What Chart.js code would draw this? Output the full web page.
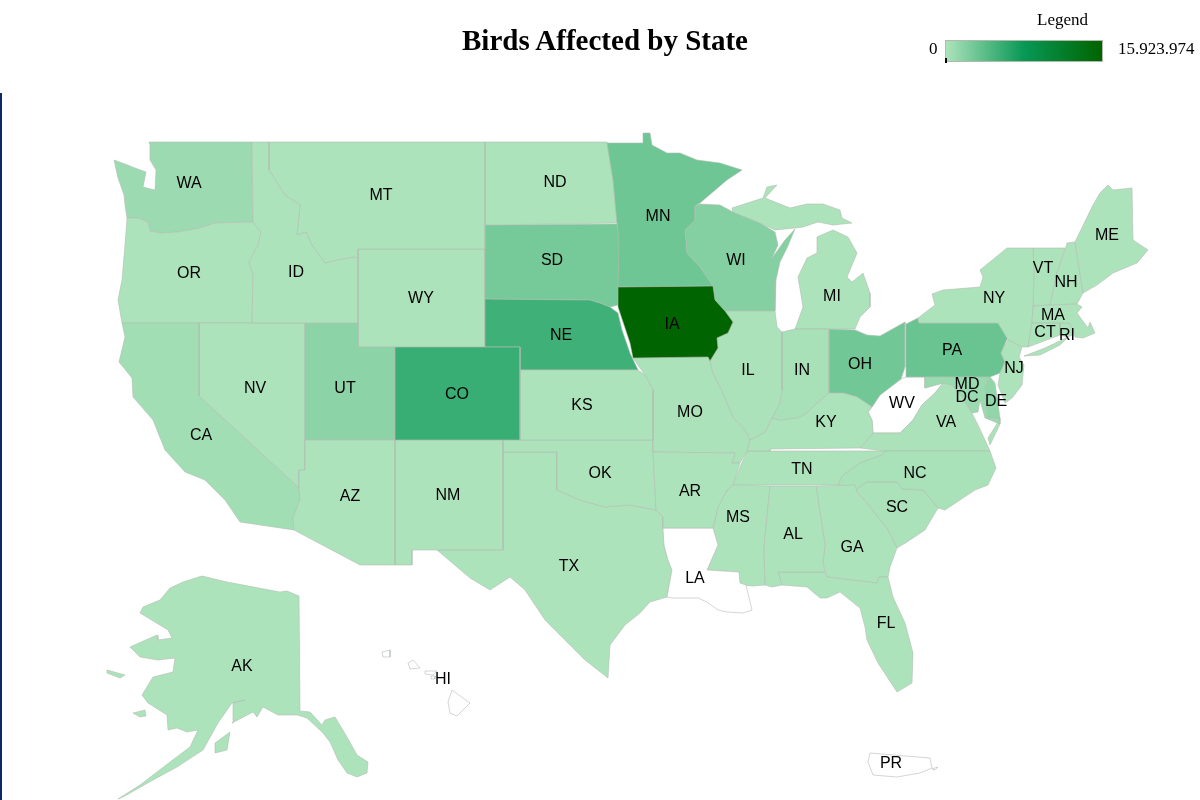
<!DOCTYPE html>
<html lang="en">
<head>
<meta charset="UTF-8">
<title>Birds Affected by State</title>
<script src="https://cdn.jsdelivr.net/npm/chart.js"></script>
<style>
  html, body { margin: 0; background: #fff; }
  #page { position: relative; width: 1200px; height: 800px; overflow: hidden; font-family: "Liberation Serif", serif; color: #000; }
  #map { position: absolute; left: 0; top: 0; }
  #edge { position: absolute; left: 0; top: 93px; width: 2px; height: 707px; background: #0b2a63; }
  #title { position: absolute; left: 405px; width: 400px; top: 23px; text-align: center; font-size: 29px; font-weight: bold; line-height: 34px; }
  .lg { position: absolute; font-size: 17px; line-height: 18px; }
  #bar { position: absolute; left: 945px; top: 40px; width: 156px; height: 20px; border: 1px solid #b4b8a8; }
  #tick { position: absolute; left: 945px; top: 58px; width: 1.5px; height: 5px; background: #000; }
</style>
</head>
<body>
<div id="page">
  <canvas id="map" width="1200" height="800"></canvas>
  <div id="edge"></div>
  <div id="title">Birds Affected by State</div>
  <div class="lg" style="left:1037px;top:11px">Legend</div>
  <div class="lg" id="minLabel" style="left:929px;top:40px"></div>
  <div id="bar"></div>
  <div id="tick"></div>
  <div class="lg" id="maxLabel" style="left:1118px;top:40px"></div>
</div>
<script>
// values read off the colour of each state, null = no data (white)
const stateCodes = ["AK","AL","AR","AZ","CA","CO","CT","DC","DE","FL","GA","HI","IA","ID","IL","IN","KS","KY","LA","MA","MD","ME","MI","MN","MO","MS","MT","NC","ND","NE","NH","NJ","NM","NV","NY","OH","OK","OR","PA","PR","RI","SC","SD","TN","TX","UT","VA","VT","WA","WI","WV","WY"];
const birdsAffected = [20000,40000,30000,10000,550000,5600000,10000,10000,1400000,10000,10000,null,15923974,20000,60000,250000,30000,30000,null,10000,950000,10000,30000,3100000,60000,30000,20000,200000,40000,5300000,10000,50000,10000,10000,40000,2900000,20000,20000,3260000,null,10000,100000,2670000,30000,20000,1600000,60000,10000,800000,2000000,null,10000];

const legendMin = 0;
const legendMax = 15923974;
const legendMinText = "0";
const legendMaxText = "15.923.974";
const rampStops = [0, 0.5, 1];
const rampColors = [[173,227,187],[8,152,86],[0,100,0]];

// label anchors, map units
const labelX = [242,793,690,350,201,457,1045,967,996,886,852,443,672,296,748,802,582,826,695,1053,967,1107,832,658,690,738,381,915,555,561,1066,1014,448,255,994,860,600,189,952,891,1067,897,552,802,569,345,946,1043,189,736,902,421];
const labelY = [665,533,490,495,434,393,331,396,400,622,546,678,323,271,369,369,404,421,577,314,383,234,295,215,411,516,194,472,181,334,281,367,494,387,297,363,472,272,349,762,334,506,259,468,565,387,421,267,182,259,402,297];

// state outlines, map units, one flat x,y list per ring
const outlineAK = [[202,576,227,582,280,592,287,591,299,596,300,711,310,712,322,725,325,720,335,717,347,737,357,755,368,762,367,773,357,777,347,773,338,760,330,742,323,733,307,718,297,715,278,715,263,707,257,717,253,712,232,723,233,703,245,700,232,703,218,723,203,750,177,767,153,780,123,797,118,799,140,785,170,762,190,747,198,730,187,732,177,728,168,730,167,715,148,703,142,695,153,677,173,672,175,658,158,660,140,657,130,647,157,635,158,640,172,638,168,630,140,613,143,607,160,600,170,588,183,582],[107,670,125,675,120,678,107,673],[133,713,145,710,146,716,140,717],[215,743,230,732,227,750,215,753]];
const outlineAL = [[770,486,816,486,825,545,823,563,825,572,778,572,782,585,772,587,765,585,764,547]];
const outlineAR = [[653,452,735,453,732,463,740,463,733,485,727,490,718,507,713,528,663,528,663,517,656,510,655,490]];
const outlineAZ = [[305,440,395,440,395,565,360,565,294,530,293,518,300,500,299,488,299,470,305,470]];
const outlineCA = [[122,323,199,323,199,396,299,488,300,500,293,518,294,530,240,522,225,500,205,480,185,472,165,450,153,420,133,397,132,378,119,362,125,337]];
const outlineCO = [[395,347,520,347,520,440,395,440]];
const outlineCT = [[1032,323,1060,323,1060,335,1028,347]];
const outlineDC = [[955,388,959,386,961,390,957,392]];
const outlineDE = [[990,377,995,383,1000,418,988,418,985,387]];
const outlineFL = [[778,572,825,572,827,577,877,583,879,577,888,577,893,597,905,623,913,653,912,683,897,692,878,663,867,640,865,627,860,608,840,592,827,598,820,598,807,587,782,585]];
const outlineGA = [[816,486,855,485,857,492,867,503,888,530,897,548,890,567,888,577,879,577,877,583,827,577,823,563,825,545]];
const outlineHI = [[448,702,452,690,470,703,457,716,450,713],[425,671,437,671,433,675,425,674],[431,676,435,676,435,679,431,679],[408,663,413,660,420,668,410,669],[382,652,390,650,390,657,383,657]];
const outlineIA = [[618,287,713,286,715,300,725,311,733,322,728,333,717,338,718,348,710,361,708,357,633,358,630,343,618,307]];
const outlineID = [[252,142,269,142,269,170,285,195,300,205,297,235,306,232,312,245,325,263,338,260,355,257,358,260,358,323,252,323,253,275,249,262,258,245,261,232,253,222]];
const outlineIL = [[725,311,775,311,777,327,782,332,782,390,780,403,772,418,765,432,750,440,745,430,733,417,723,393,713,373,710,361,718,348,717,338,728,333,733,322]];
const outlineIN = [[782,332,795,329,829,329,829,393,817,403,807,413,797,418,780,420,772,418,780,403,782,390]];
const outlineKS = [[520,370,638,370,645,375,653,390,653,440,520,440]];
const outlineKY = [[772,418,780,420,797,418,807,413,817,403,829,393,843,393,857,397,872,407,868,412,872,420,873,433,860,448,770,449,770,451,747,451,750,440,765,432]];
const outlineLA = [[663,528,713,528,715,535,718,545,707,570,739,572,740,583,746,585,752,610,743,613,727,612,718,610,707,602,698,598,673,598,667,597,672,570,668,560,664,545]];
const outlineMA = [[1033,306,1050,305,1077,304,1082,307,1077,313,1088,328,1090,322,1095,333,1083,338,1075,337,1070,323,1032,323]];
const outlineMD = [[925,377,990,377,985,387,988,417,1000,418,1000,424,985,418,980,400,978,412,972,413,962,397,952,385,943,383,925,388]];
const outlineME = [[1075,242,1093,205,1100,193,1108,185,1113,190,1132,188,1133,240,1148,250,1137,263,1113,273,1097,285,1083,293]];
const outlineMI = [[732,208,763,198,767,187,777,185,765,198,790,208,807,204,823,204,840,210,842,218,852,223,833,225,818,222,803,227,795,228,775,230,760,223,733,212],[833,230,848,237,857,253,847,277,852,282,863,273,870,293,870,307,860,317,855,329,795,329,803,307,798,277,807,258,817,253,817,237]];
const outlineMN = [[607,143,643,143,643,133,650,133,652,145,667,153,680,153,697,160,720,163,742,170,727,180,700,203,695,206,695,220,685,230,687,253,700,267,713,286,618,287,619,240,617,223,613,180]];
const outlineMO = [[633,358,708,357,710,361,713,373,723,393,733,417,745,430,750,440,747,451,740,463,732,463,735,453,653,452,653,390,645,375]];
const outlineMS = [[733,485,770,486,764,547,765,585,753,586,740,585,739,572,707,570,718,545,715,535,713,528,718,507,727,490]];
const outlineMT = [[269,142,485,142,485,249,358,249,358,260,355,257,338,260,325,263,312,245,306,232,297,235,300,205,285,195,269,170]];
const outlineNC = [[885,451,990,451,996,468,988,485,975,490,960,500,945,510,938,508,923,490,902,489,897,482,867,482,855,490,838,485,843,475,860,463,882,455]];
const outlineND = [[485,142,607,142,613,180,617,223,485,225]];
const outlineNE = [[485,299,590,300,600,303,610,307,618,313,622,330,630,353,638,370,520,370,520,347,485,347]];
const outlineNH = [[1067,243,1075,242,1083,293,1077,304,1050,305,1057,273,1065,250]];
const outlineNJ = [[1008,340,1022,347,1019,357,1024,365,1022,385,1012,398,1005,403,998,385,1000,373,1005,362,1001,353]];
const outlineNM = [[395,440,503,440,503,550,412,550,412,565,395,565]];
const outlineNV = [[199,323,305,323,305,470,299,470,299,488,199,396]];
const outlineNY = [[918,318,935,305,932,294,943,290,980,287,983,277,980,270,1007,248,1033,248,1034,273,1033,306,1032,323,1028,347,1022,347,1008,340,998,323,919,323],[1024,356,1045,348,1068,337,1060,345,1040,355]];
const outlineOH = [[829,329,855,330,867,335,880,336,905,322,905,367,901,379,880,395,872,407,857,397,843,393,829,393]];
const outlineOK = [[503,440,653,440,653,452,655,490,656,510,630,505,605,507,580,500,557,490,557,452,503,452]];
const outlineOR = [[127,218,138,218,148,222,150,231,160,233,178,232,200,228,215,223,253,222,261,232,258,245,249,262,253,275,252,323,122,323,118,300,122,280,125,245]];
const outlinePA = [[906,324,918,318,919,323,998,323,1008,337,1001,353,1005,362,1000,373,990,377,906,377]];
const outlinePR = [[870,753,930,758,932,768,920,773,897,777,873,775,868,762],[932,769,938,767,935,770]];
const outlineRI = [[1060,323,1070,323,1073,335,1067,337,1060,335]];
const outlineSC = [[855,490,867,482,897,482,902,489,923,490,938,508,925,530,907,542,897,548,888,530,867,503]];
const outlineSD = [[485,225,617,224,620,240,619,287,618,305,610,307,600,303,590,300,485,299]];
const outlineTN = [[747,451,885,451,882,455,860,463,843,475,838,485,733,485,740,467]];
const outlineTX = [[503,452,557,452,557,490,580,500,605,507,630,505,656,510,663,517,663,528,664,545,668,560,672,570,667,597,650,602,640,613,625,625,610,645,608,678,585,660,565,640,545,620,525,590,510,577,490,590,470,578,437,550,503,550]];
const outlineUT = [[305,323,358,323,358,347,395,347,395,440,305,440]];
const outlineVA = [[860,448,873,433,883,433,900,433,913,420,922,405,935,393,943,383,952,385,962,397,972,413,978,425,985,440,990,451,885,451],[998,422,1000,424,990,445,988,438]];
const outlineVT = [[1033,248,1065,248,1057,273,1050,305,1033,306,1034,273]];
const outlineWA = [[149,142,252,142,253,222,215,223,200,228,178,232,160,233,150,231,148,222,138,218,127,218,125,205,124,195,118,178,114,160,125,164,135,168,146,172,143,187,155,190,156,170,150,160,150,145]];
const outlineWI = [[695,206,700,204,720,205,733,212,760,223,775,232,778,245,772,258,785,240,795,229,787,248,780,262,776,280,775,311,725,311,715,300,713,286,700,267,687,253,685,230,695,220]];
const outlineWV = [[872,407,880,395,901,379,906,377,925,377,925,388,943,383,935,393,922,405,913,420,900,433,883,433,873,433,872,420,868,412]];
const outlineWY = [[358,249,485,249,485,347,358,347]];
const stateOutlines = [outlineAK,outlineAL,outlineAR,outlineAZ,outlineCA,outlineCO,outlineCT,outlineDC,outlineDE,outlineFL,outlineGA,outlineHI,outlineIA,outlineID,outlineIL,outlineIN,outlineKS,outlineKY,outlineLA,outlineMA,outlineMD,outlineME,outlineMI,outlineMN,outlineMO,outlineMS,outlineMT,outlineNC,outlineND,outlineNE,outlineNH,outlineNJ,outlineNM,outlineNV,outlineNY,outlineOH,outlineOK,outlineOR,outlinePA,outlinePR,outlineRI,outlineSC,outlineSD,outlineTN,outlineTX,outlineUT,outlineVA,outlineVT,outlineWA,outlineWI,outlineWV,outlineWY];

function rampColor(value) {
    if (value === null) return '#ffffff';
    let t = (value - legendMin) / (legendMax - legendMin);
    let i = t < rampStops[1] ? 0 : 1;
    let f = (t - rampStops[i]) / (rampStops[i + 1] - rampStops[i]);
    let a = rampColors[i], b = rampColors[i + 1];
    let rgb = a.map((c, k) => Math.round(c + (b[k] - c) * f));
    return `rgb(${rgb.join(',')})`;
}

function ringPoints(ring) {
    let pts = [];
    for (let i = 0; i < ring.length; i += 2) pts.push({ x: ring[i], y: ring[i + 1] });
    pts.push({ x: ring[0], y: ring[1] });
    return pts;
}

let datasets = [];
stateCodes.forEach((code, i) => {
    stateOutlines[i].forEach(ring => {
        datasets.push({
            label: code,
            data: ringPoints(ring),
            showLine: true,
            fill: 'shape',
            tension: 0,
            pointRadius: 0,
            borderWidth: 0.6,
            borderColor: '#b4bcb4',
            backgroundColor: rampColor(birdsAffected[i])
        });
    });
});

// state codes on top of the shapes
const stateLabels = {
    id: 'stateLabels',
    afterDatasetsDraw(chart) {
        let ctx = chart.ctx;
        ctx.save();
        ctx.font = '16px "Liberation Sans", Arial, sans-serif';
        ctx.fillStyle = '#000';
        ctx.textAlign = 'center';
        ctx.textBaseline = 'middle';
        stateCodes.forEach((code, i) => {
            ctx.fillText(code, chart.scales.x.getPixelForValue(labelX[i]), chart.scales.y.getPixelForValue(labelY[i]) + 2);
        });
        ctx.restore();
    }
};

new Chart(document.getElementById('map').getContext('2d'), {
    type: 'scatter',
    data: { datasets: datasets },
    plugins: [stateLabels],
    options: {
        responsive: false,
        animation: false,
        layout: { padding: 0 },
        clip: false,
        plugins: { legend: { display: false }, tooltip: { enabled: false } },
        scales: {
            x: { type: 'linear', display: false, min: 0, max: 1200 },
            y: { type: 'linear', display: false, min: 0, max: 800, reverse: true }
        }
    }
});

// legend bar
let gradient = rampStops.map((s, i) => `rgb(${rampColors[i].join(',')}) ${s * 100}%`).join(',');
document.getElementById('bar').style.background = `linear-gradient(to right, ${gradient})`;
document.getElementById('minLabel').textContent = legendMinText;
document.getElementById('maxLabel').textContent = legendMaxText;
</script>
</body>
</html>
